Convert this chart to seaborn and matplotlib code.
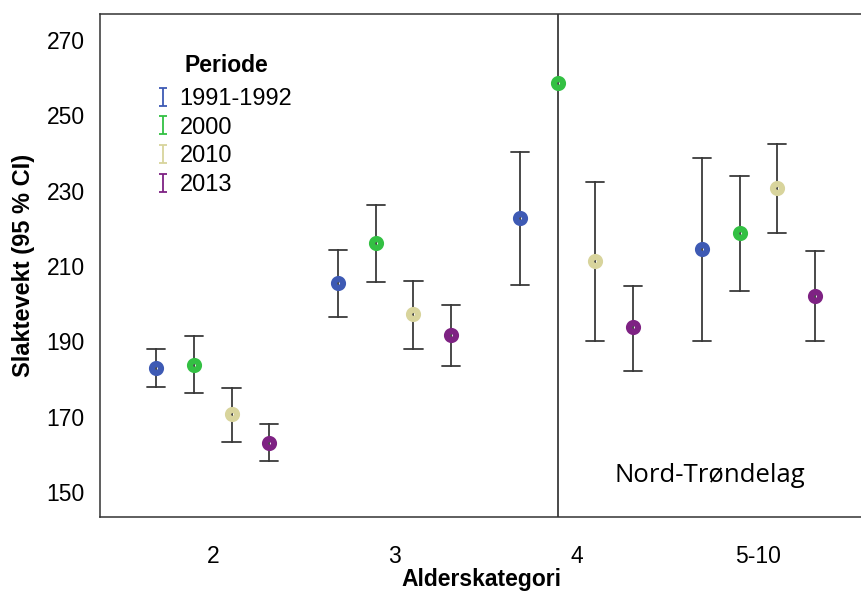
import numpy as np
import pandas as pd
import matplotlib
matplotlib.use("Agg")
import matplotlib.pyplot as plt
from matplotlib.lines import Line2D
from matplotlib.path import Path
import seaborn as sns

# ---- data ----
categories = ["2", "3", "4", "5-10"]
periods = ["1991-1992", "2000", "2010", "2013"]
# mean values per period, ordered as categories
mean_1991 = [182.9, 205.5, 222.7, 214.5]
mean_2000 = [183.7, 216.1, 258.6, 218.8]
mean_2010 = [170.7, 197.3, 211.3, 230.7]
mean_2013 = [163.0, 191.7, 193.8, 202.0]
# lower / upper 95 % CI bounds
low_1991 = [177.9, 196.5, 205.0, 190.1]
high_1991 = [188.0, 214.3, 240.3, 238.7]
low_2000 = [176.3, 205.8, 60.0, 203.4]
high_2000 = [191.4, 226.2, 460.0, 233.9]
low_2010 = [163.3, 188.0, 190.1, 218.8]
high_2010 = [177.6, 206.0, 232.3, 242.4]
low_2013 = [158.2, 183.5, 182.1, 190.1]
high_2013 = [168.1, 199.7, 204.7, 214.0]
y_ticks = [150, 170, 190, 210, 230, 250, 270]

means = [mean_1991, mean_2000, mean_2010, mean_2013]
lows = [low_1991, low_2000, low_2010, low_2013]
highs = [high_1991, high_2000, high_2010, high_2013]

rows = []
for p, m, lo, hi in zip(periods, means, lows, highs):
    for c, mv, lv, hv in zip(categories, m, lo, hi):
        for v in (lv, mv, hv):
            rows.append({"Alderskategori": c, "Periode": p, "Slaktevekt": v})
df = pd.DataFrame(rows)

palette = {"1991-1992": "#3E5AB4", "2000": "#33C043", "2010": "#D8D49C", "2013": "#7E2283"}

sns.set_style("white")
plt.rcParams["font.family"] = ["Liberation Sans", "DejaVu Sans"]
plt.rcParams["text.color"] = "black"
plt.rcParams["axes.labelcolor"] = "black"

fig = plt.figure(figsize=(8.62, 5.91), dpi=100)
ax = fig.add_axes([100 / 862, 1 - 517 / 591, 762 / 862, (517 - 14) / 591])

sns.pointplot(
    data=df, x="Alderskategori", y="Slaktevekt", hue="Periode",
    order=categories, hue_order=periods, palette=palette,
    estimator="median", errorbar=("pi", 100), dodge=0.62,
    linestyle="none", markers="o", capsize=0.1,
    err_kws={"color": "#3a3a3a", "linewidth": 1.3, "zorder": 1},
    markersize=6.5, markeredgewidth=4.4, markerfacecolor="none", zorder=3,
    legend=False, ax=ax,
)

ax.set_ylim(143.4, 276.9)
ax.set_xlim(-0.62, 3.57)
ax.set_yticks(y_ticks)
ax.set_yticklabels([str(t) for t in y_ticks])
ax.tick_params(axis="both", direction="out", length=8, width=1.1, colors="#333333",
               labelcolor="black", labelsize=16.5, pad=3)
ax.tick_params(axis="x", pad=12)
for s in ["left", "bottom", "top"]:
    ax.spines[s].set_visible(True)
    ax.spines[s].set_color("#333333")
    ax.spines[s].set_linewidth(1.1)
ax.spines["right"].set_visible(False)

ax.set_xlabel("Alderskategori", fontsize=16.5, fontweight="bold", labelpad=0)
ax.set_ylabel("Slaktevekt (95 % CI)", fontsize=17, fontweight="bold", labelpad=8)

ax.text((710 - 100) / 762, (517 - 475) / 503, "Nord-Trøndelag", transform=ax.transAxes,
        ha="center", va="center", fontsize=18.5, family=["Open Sans", "DejaVu Sans"])

# legend title placed as its own text
ax.text((226 - 100) / 762, (517 - 65) / 503, "Periode", transform=ax.transAxes,
        ha="center", va="center", fontsize=16.5, fontweight="bold")

ibeam = Path([(-0.45, 1), (0.45, 1), (0, 1), (0, -1), (-0.45, -1), (0.45, -1)],
             [Path.MOVETO, Path.LINETO, Path.MOVETO, Path.LINETO, Path.MOVETO, Path.LINETO])
handles = [Line2D([], [], marker=ibeam, color=palette[p], linestyle="none",
                  markersize=13, markerfacecolor="none", markeredgewidth=1.3)
           for p in periods]
leg = ax.legend(handles, periods, loc="upper left",
                bbox_to_anchor=((152 - 100) / 762, (517 - 88) / 503), frameon=False,
                fontsize=17, handletextpad=0.27, labelspacing=0.28, handlelength=0.9,
                borderpad=0, borderaxespad=0)

fig.savefig("out.png", dpi=100)
